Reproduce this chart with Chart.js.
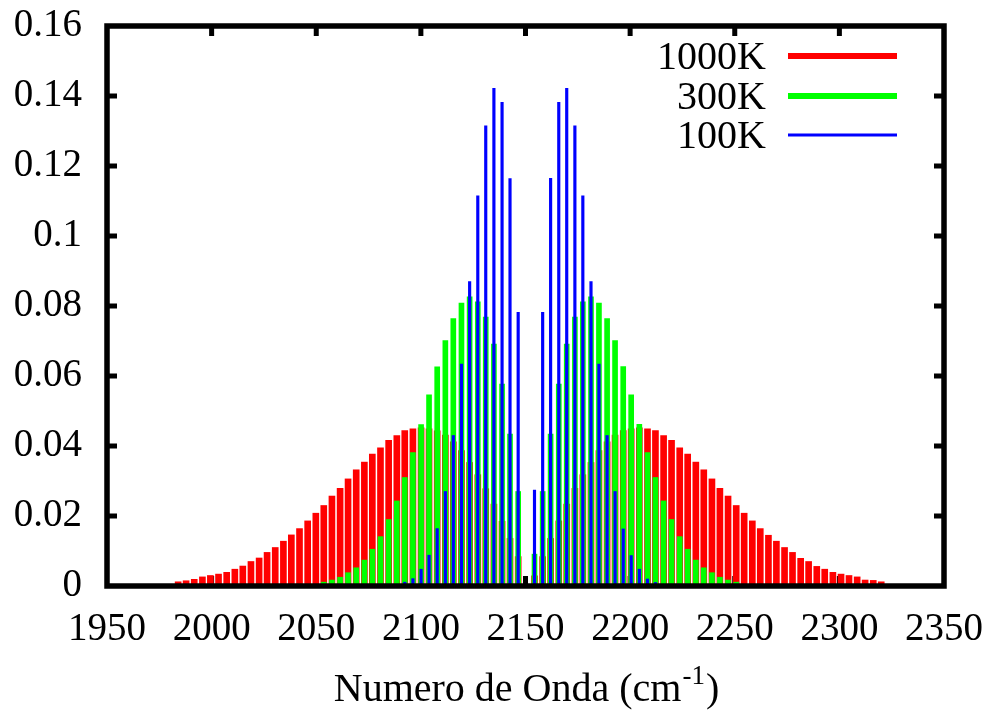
<!DOCTYPE html>
<html>
<head>
<meta charset="utf-8">
<script src="https://cdn.jsdelivr.net/npm/chart.js@4.4.0/dist/chart.umd.min.js"></script>
<style>
  body { margin: 0; background: #fff; }
  canvas { display: block; }
</style>
</head>
<body>
<canvas id="myChart" width="993" height="712"></canvas>
<script>
// line positions, cm^-1
// P branch, P(1) .. P(43)
var wnP = [2146.5, 2142.6, 2138.8, 2134.9, 2131.0, 2127.2, 2123.3, 2119.4, 2115.5, 2111.7,
  2107.8, 2103.9, 2100.1, 2096.2, 2092.3, 2088.5, 2084.6, 2080.7, 2076.8, 2073.0,
  2069.1, 2065.2, 2061.4, 2057.5, 2053.6, 2049.8, 2045.9, 2042.0, 2038.1, 2034.3,
  2030.4, 2026.5, 2022.7, 2018.8, 2014.9, 2011.1, 2007.2, 2003.3, 1999.4, 1995.6,
  1991.7, 1987.8, 1984.0];
// R branch, R(0) .. R(43)
var wnR = [2154.3, 2158.2, 2162.0, 2165.9, 2169.7, 2173.6, 2177.4, 2181.3, 2185.1, 2189.0,
  2192.8, 2196.7, 2200.5, 2204.4, 2208.3, 2212.1, 2216.0, 2219.8, 2223.7, 2227.5,
  2231.4, 2235.2, 2239.1, 2242.9, 2246.8, 2250.7, 2254.5, 2258.4, 2262.2, 2266.1,
  2269.9, 2273.8, 2277.6, 2281.5, 2285.3, 2289.2, 2293.0, 2296.9, 2300.8, 2304.6,
  2308.5, 2312.3, 2316.2, 2320.0];

var seriesNames = ["1000K", "300K", "100K"];

// 1000K
var red1000P = [0.0084, 0.0136, 0.0185, 0.0234, 0.0278, 0.0318, 0.0353, 0.0387, 0.0412, 0.0431,
  0.0443, 0.0449, 0.0452, 0.0449, 0.0444, 0.0430, 0.0416, 0.0395, 0.0377, 0.0354,
  0.0332, 0.0306, 0.0279, 0.0257, 0.0230, 0.0208, 0.0186, 0.0164, 0.0146, 0.0128,
  0.0110, 0.0096, 0.0080, 0.0070, 0.0057, 0.0048, 0.0039, 0.0034, 0.0030, 0.0026,
  0.0019, 0.0015, 0.0012];
var red1000R = [0.0029, 0.0084, 0.0136, 0.0186, 0.0234, 0.0279, 0.0318, 0.0353, 0.0387, 0.0412,
  0.0431, 0.0444, 0.0449, 0.0452, 0.0449, 0.0444, 0.0430, 0.0416, 0.0395, 0.0377,
  0.0354, 0.0332, 0.0306, 0.0279, 0.0257, 0.0230, 0.0208, 0.0186, 0.0164, 0.0145,
  0.0128, 0.0110, 0.0096, 0.0079, 0.0070, 0.0056, 0.0048, 0.0039, 0.0034, 0.0030,
  0.0026, 0.0017, 0.0016, 0.0012];

// 300K
var green300P = [0.0270, 0.0434, 0.0577, 0.0691, 0.0768, 0.0812, 0.0826, 0.0808, 0.0764, 0.0701,
  0.0626, 0.0546, 0.0461, 0.0381, 0.0310, 0.0243, 0.0190, 0.0141, 0.0105, 0.0074,
  0.0052, 0.0038, 0.0025, 0.0017, 0.0011];
var green300R = [0.0091, 0.0270, 0.0434, 0.0577, 0.0691, 0.0768, 0.0812, 0.0826, 0.0808, 0.0764,
  0.0701, 0.0627, 0.0546, 0.0462, 0.0381, 0.0310, 0.0243, 0.0190, 0.0141, 0.0105,
  0.0074, 0.0052, 0.0038, 0.0025, 0.0017, 0.0011];

// 100K
var blue100P = [0.0782, 0.1164, 0.1382, 0.1422, 0.1315, 0.1115, 0.0870, 0.0634, 0.0430, 0.0270,
  0.0164, 0.0088, 0.0048, 0.0021, 0.0011];
var blue100R = [0.0274, 0.0782, 0.1165, 0.1382, 0.1422, 0.1315, 0.1115, 0.0870, 0.0634, 0.0430,
  0.0270, 0.0163, 0.0087, 0.0048, 0.0020, 0.0010];

var xTicks = [1950, 2000, 2050, 2100, 2150, 2200, 2250, 2300, 2350];
var yTicks = [0, 0.02, 0.04, 0.06, 0.08, 0.1, 0.12, 0.14, 0.16];

var colors = ["#ff0000", "#00ff00", "#0000ff"];
var FONT = "'Liberation Serif', 'Times New Roman', serif";

function pairs(wn, vals) {
  return vals.map(function (v, j) {
    return { x: wn[j], y: v };
  });
}

// frame, inward ticks, legend and axis title (gnuplot look)
var decorPlugin = {
  id: "decor",
  beforeDatasetsDraw: function (chart) {
    var ctx = chart.ctx, a = chart.chartArea, sx = chart.scales.x;
    ctx.save();
    ctx.fillStyle = "#000";
    xTicks.slice(1, -1).forEach(function (v) {
      var px = sx.getPixelForValue(v);
      ctx.fillRect(px - 2.5, a.bottom - 10, 5, 10);
    });
    ctx.restore();
  },
  afterDatasetsDraw: function (chart) {
    var ctx = chart.ctx, a = chart.chartArea;
    var sx = chart.scales.x, sy = chart.scales.y;
    ctx.save();
    ctx.fillStyle = "#000";
    xTicks.slice(1, -1).forEach(function (v) {
      var px = sx.getPixelForValue(v);
      ctx.fillRect(px - 2.5, a.top, 5, 10);
    });
    yTicks.slice(1, -1).forEach(function (v) {
      var py = sy.getPixelForValue(v);
      ctx.fillRect(a.left, py - 2.5, 10, 5);
      ctx.fillRect(a.right - 10, py - 2.5, 10, 5);
    });
    ctx.strokeStyle = "#000";
    ctx.lineWidth = 5.5;
    ctx.strokeRect(a.left, a.top, a.right - a.left, a.bottom - a.top);

    // legend
    ctx.font = "40px " + FONT;
    ctx.textAlign = "right";
    ctx.textBaseline = "middle";
    var rows = [57, 97, 136];
    var widths = [6, 6, 3];
    seriesNames.forEach(function (name, i) {
      ctx.fillStyle = "#000";
      ctx.fillText(name, 766, rows[i] + 1);
      ctx.strokeStyle = colors[i];
      ctx.lineWidth = widths[i];
      ctx.beginPath();
      ctx.moveTo(788, rows[i] - 1);
      ctx.lineTo(897, rows[i] - 1);
      ctx.stroke();
    });

    // x axis title with superscript
    var main = "Numero de Onda (cm", sup = "-1", close = ")";
    ctx.fillStyle = "#000";
    ctx.textAlign = "left";
    ctx.textBaseline = "alphabetic";
    ctx.font = "40px " + FONT;
    var w1 = ctx.measureText(main).width, w3 = ctx.measureText(close).width;
    ctx.font = "27px " + FONT;
    var w2 = ctx.measureText(sup).width;
    var x0 = (a.left + a.right) / 2 - (w1 + w2 + w3) / 2;
    var base = 701;
    ctx.font = "40px " + FONT;
    ctx.fillText(main, x0, base);
    ctx.font = "27px " + FONT;
    ctx.fillText(sup, x0 + w1 + 1, base - 17);
    ctx.font = "40px " + FONT;
    ctx.fillText(close, x0 + w1 + w2 + 2, base);
    ctx.restore();
  }
};

var ctx = document.getElementById("myChart").getContext("2d");
var myChart = new Chart(ctx, {
  type: "bar",
  data: {
    datasets: [
      {
        label: seriesNames[0],
        data: pairs(wnP, red1000P).concat(pairs(wnR, red1000R)),
        backgroundColor: colors[0],
        barThickness: 6,
        order: 3
      },
      {
        label: seriesNames[1],
        data: pairs(wnP, green300P).concat(pairs(wnR, green300R)),
        backgroundColor: colors[1],
        barThickness: 5,
        order: 2
      },
      {
        label: seriesNames[2],
        data: pairs(wnP, blue100P).concat(pairs(wnR, blue100R)),
        backgroundColor: colors[2],
        barThickness: 2.5,
        order: 1
      }
    ]
  },
  options: {
    responsive: false,
    animation: false,
    devicePixelRatio: 1,
    grouped: false,
    layout: {
      padding: { top: 26, right: 49, left: 0, bottom: 0 }
    },
    plugins: {
      legend: { display: false },
      tooltip: { enabled: false }
    },
    scales: {
      x: {
        type: "linear",
        offset: false,
        min: 1950,
        max: 2350,
        afterBuildTicks: function (scale) {
          scale.ticks = xTicks.map(function (v) { return { value: v }; });
        },
        afterFit: function (scale) {
          scale.height = 126;
          scale.paddingLeft = 0;
          scale.paddingRight = 0;
        },
        grid: { display: false, drawTicks: false },
        border: { display: false },
        ticks: {
          maxRotation: 0,
          autoSkip: false,
          padding: 20,
          color: "#000",
          font: { family: FONT, size: 39 },
          callback: function (v) { return String(v); }
        }
      },
      y: {
        min: 0,
        max: 0.16,
        afterBuildTicks: function (scale) {
          scale.ticks = yTicks.map(function (v) { return { value: v }; });
        },
        afterFit: function (scale) {
          scale.width = 107;
          scale.paddingTop = 0;
          scale.paddingBottom = 0;
        },
        grid: { display: false, drawTicks: false },
        border: { display: false },
        ticks: {
          padding: 25,
          color: "#000",
          font: { family: FONT, size: 39 },
          callback: function (v) { return String(Number(v.toFixed(2))); }
        }
      }
    }
  },
  plugins: [decorPlugin]
});
</script>
</body>
</html>
